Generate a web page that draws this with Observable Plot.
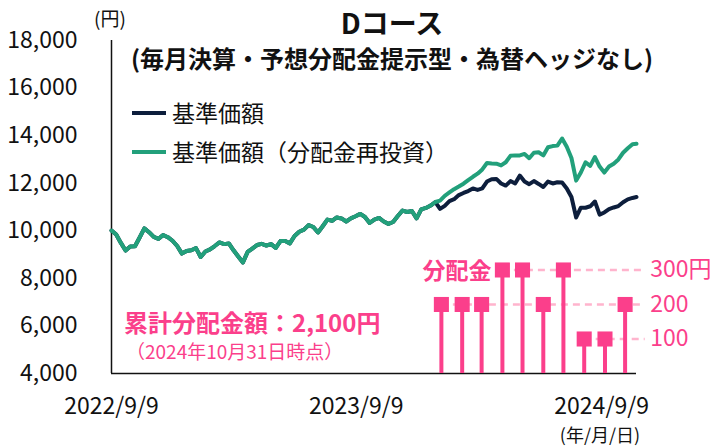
<!DOCTYPE html>
<html><head><meta charset="utf-8">
<script src="https://cdn.jsdelivr.net/npm/d3@7"></script>
<script src="https://cdn.jsdelivr.net/npm/@observablehq/plot@0.6"></script>
<style>
body{margin:0;background:#fff;font-family:"Noto Sans CJK JP",sans-serif;}
#wrap{position:relative;width:710px;height:448px;overflow:hidden;background:#fff;}
#wrap svg{position:absolute;left:0;top:0;}
.t{position:absolute;white-space:nowrap;line-height:1;font-family:"Noto Sans CJK JP",sans-serif;}
</style></head><body><div id="wrap"></div>
<script>
// ---- data ----
const startDate = "2022-09-09";
const endDate = "2024-10-31";
const xTicks = ["2022-09-09", "2023-09-09", "2024-09-09"];
const yTicks = [4000, 6000, 8000, 10000, 12000, 14000, 16000, 18000];
// 基準価額（分配金再投資） weekly from startDate, last point = endDate
const navReinvested = [
  10010, 9840, 9490, 9170, 9340, 9350, 9720, 10100, 9940, 9740,
  9660, 9820, 9730, 9580, 9360, 9040, 9150, 9180, 9270, 8900,
  9130, 9220, 9360, 9510, 9440, 9470, 9180, 8920, 8670, 9110,
  9250, 9400, 9450, 9380, 9440, 9280, 9570, 9570, 9470, 9780,
  9960, 10050, 10240, 10160, 9930, 10190, 10470, 10420, 10560, 10520,
  10390, 10520, 10610, 10710, 10580, 10330, 10470, 10540, 10390, 10290,
  10370, 10620, 10850, 10790, 10830, 10520, 10900, 10960, 11060, 11210,
  11270, 11470, 11610, 11750, 11860, 11980, 12130, 12270, 12400, 12580,
  12850, 12830, 12820, 12750, 12880, 13150, 13170, 13170, 13230, 13050,
  13280, 13300, 13170, 13510, 13560, 13580, 13880, 13530, 13060, 12110,
  12450, 12880, 12730, 13100, 12700, 12450, 12700, 12820, 13000, 13280,
  13470, 13640, 13660
];
// 基準価額: identical to the above until distributions start, then these
const navTail = [
  10920, 11050, 11250, 11330, 11500, 11590, 11670, 11780, 11720, 11780,
  12070, 12170, 12180, 11990, 11900, 12090, 11990, 12320, 12070, 11960,
  12090, 11970, 11840, 12070, 11990, 12040, 12030, 11780, 11420, 10560,
  10970, 10970, 11030, 11230, 10680, 10770, 10910, 10980, 11040, 11200,
  11320, 11380, 11420
];
const distDates = ["2024-01-14", "2024-02-14", "2024-03-14", "2024-04-14", "2024-05-14",
  "2024-06-14", "2024-07-14", "2024-08-14", "2024-09-14", "2024-10-14"];
const distValues = [200, 200, 200, 300, 300, 200, 300, 100, 100, 200];
const distLevels = [300, 200, 100];
const distLevelLabels = ["300円", "200", "100"];
const dashEnd = "2024-11-13";

// ---- styling ----
const FONT = '"Noto Sans CJK JP", sans-serif';
const PINK = "#fb3f8b";
const PINK_LIGHT = "#ffb4cd";
const GREEN = "#22a07b";
const NAVY = "#0d1e3c";

const parse = d3.utcParse("%Y-%m-%d");
const n = navReinvested.length;
const dates = navReinvested.map((_, i) => i < n - 1 ? d3.utcDay.offset(parse(startDate), 7 * i) : parse(endDate));
const reinv = navReinvested.map((v, i) => ({date: dates[i], value: v}));
const navValues = navReinvested.slice(0, n - navTail.length).concat(navTail);
const nav = navValues.map((v, i) => ({date: dates[i], value: v}));
const dist = distDates.map((d, i) => ({date: parse(d), value: distValues[i]}));
const levels = distLevels.map((l, i) => ({
  level: l, label: distLevelLabels[i],
  start: dist.find(d => d.value === l).date
}));
const xDomain = [parse(startDate), parse(endDate)];
const common = {
  width: 710, height: 448,
  marginLeft: 111, marginRight: 74, marginTop: 40, marginBottom: 75,
  style: {fontFamily: FONT, fontSize: "23px", color: "#111", background: "transparent", overflow: "visible"}
};

const main = Plot.plot({
  ...common,
  x: {type: "utc", domain: xDomain},
  y: {domain: [4000, 18000]},
  marks: [
    Plot.axisY({ticks: yTicks, tickSize: 0, tickPadding: 34, tickFormat: d3.format(","), label: null, fontSize: 23}),
    Plot.axisX({ticks: xTicks.map(parse), tickSize: 0, tickPadding: 24, tickFormat: d3.utcFormat("%Y/%-m/%-d"), label: null, fontSize: 23}),
    Plot.ruleX([xDomain[0]], {stroke: "#111", strokeWidth: 1.5}),
    Plot.ruleY([4000], {stroke: "#111", strokeWidth: 1.5}),
    Plot.lineY(nav, {x: "date", y: "value", stroke: NAVY, strokeWidth: 4, curve: "linear"}),
    Plot.lineY(reinv, {x: "date", y: "value", stroke: GREEN, strokeWidth: 4, curve: "linear"})
  ]
});

const distPlot = Plot.plot({
  ...common,
  x: {type: "utc", domain: xDomain, axis: null},
  y: {domain: [0, 965], axis: null},
  marks: [
    Plot.ruleY(levels, {y: "level", x1: "start", x2: () => parse(dashEnd), stroke: PINK_LIGHT, strokeWidth: 2.5, strokeDasharray: "7,5"}),
    Plot.ruleX(dist, {x: "date", y1: 0, y2: "value", stroke: PINK, strokeWidth: 4}),
    Plot.dot(dist, {x: "date", y: "value", symbol: "square", r: 8.5, fill: PINK, stroke: "none"}),
    Plot.text(levels, {x: () => parse(dashEnd), y: "level", text: "label", dx: 5, textAnchor: "start", fill: PINK, fontSize: 23}),
    Plot.text(["分配金"], {x: () => dist.find(d => d.value === 300).date, y: () => 300, dx: -11, dy: 2, textAnchor: "end", fill: PINK, fontSize: 23, fontWeight: "bold"})
  ]
});

const wrap = document.getElementById("wrap");
wrap.appendChild(main);
wrap.appendChild(distPlot);

function addText(txt, css) {
  const d = document.createElement("div");
  d.className = "t";
  d.textContent = txt;
  Object.assign(d.style, css);
  wrap.appendChild(d);
  return d;
}
addText("(円)", {left: "94px", top: "8px", fontSize: "19px", color: "#111"});
addText("Dコース", {left: "392px", top: "8px", fontSize: "28px", fontWeight: "bold", transform: "translateX(-50%)", color: "#111"});
addText("(毎月決算・予想分配金提示型・為替ヘッジなし)", {left: "392px", top: "46px", fontSize: "24px", fontWeight: "bold", transform: "translateX(-50%)", color: "#111"});
// legend
const leg = [[NAVY, "基準価額", 113], [GREEN, "基準価額（分配金再投資）", 152]];
leg.forEach(([c, label, y]) => {
  const l = document.createElement("div");
  Object.assign(l.style, {position: "absolute", left: "132px", top: (y - 2) + "px", width: "34px", height: "4px", background: c});
  wrap.appendChild(l);
  addText(label, {left: "172px", top: (y - 12) + "px", fontSize: "23px", color: "#111"});
});
const total = d3.sum(distValues);
addText("累計分配金額：" + d3.format(",")(total) + "円", {left: "124px", top: "310px", fontSize: "24px", fontWeight: "bold", color: PINK});
addText("（2024年10月31日時点）", {left: "126px", top: "341px", fontSize: "19px", color: PINK});
addText("(年/月/日)", {left: "600px", top: "425px", fontSize: "18px", transform: "translateX(-50%)", color: "#111"});
</script></body></html>
